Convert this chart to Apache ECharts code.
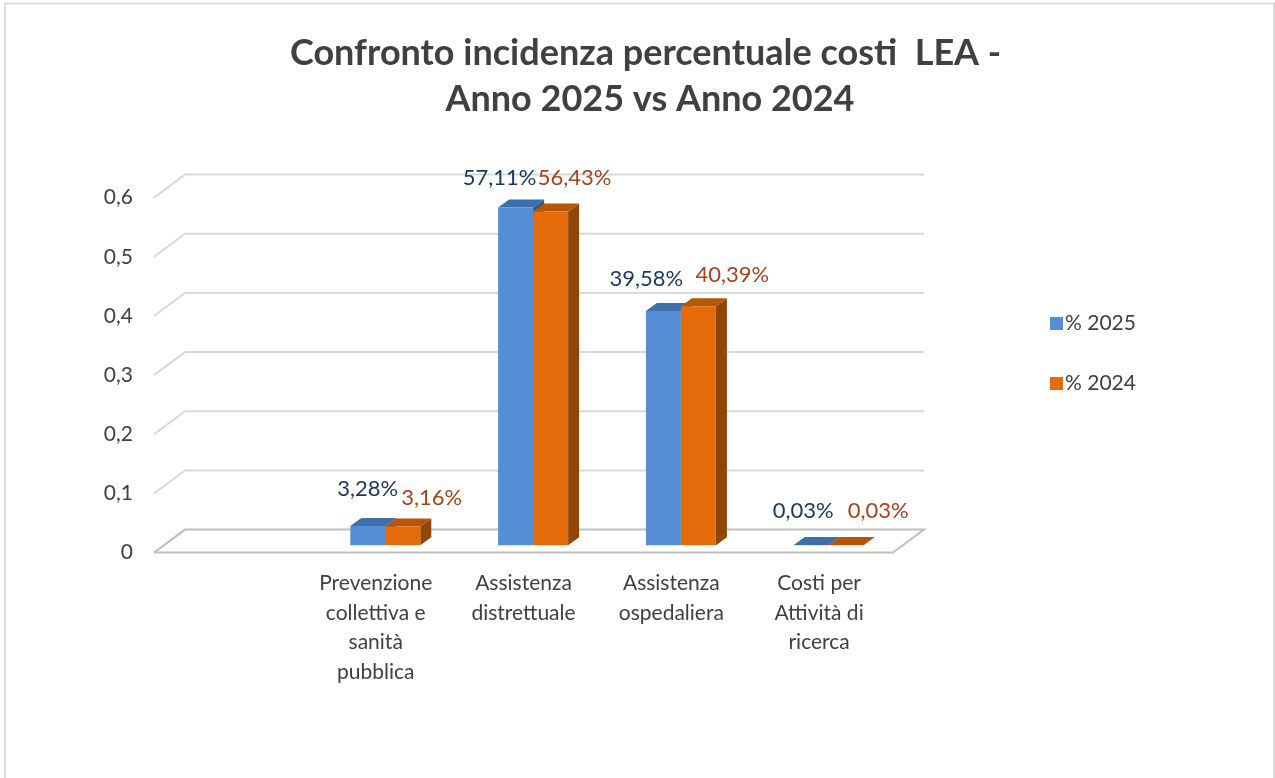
<!DOCTYPE html>
<html>
<head>
<meta charset="utf-8">
<title>Confronto incidenza percentuale costi LEA</title>
<script src="https://cdn.jsdelivr.net/npm/echarts@6/dist/echarts.min.js"></script>
<style>
    html, body { margin: 0; padding: 0; background: #ffffff; }
    #chart { width: 1275px; height: 778px; }
</style>
</head>
<body>
<div id="chart"></div>
<script>
// the first category is empty on purpose, the reference leaves that slot blank
const categories = ['', 'Prevenzione\ncollettiva e\nsanità\npubblica', 'Assistenza\ndistrettuale', 'Assistenza\nospedaliera', 'Costi per\nAttività di\nricerca'];
const values2025 = [null, 0.0328, 0.5711, 0.3958, 0.0003];
const values2024 = [null, 0.0316, 0.5643, 0.4039, 0.0003];
const seriesNames = ['% 2025', '% 2024'];
const yTicks = [0, 0.1, 0.2, 0.3, 0.4, 0.5, 0.6];

const fontName = 'Lato, "Open Sans", sans-serif';
const textGray = '#404040';

// fake 3D: how far the back wall sits from the front edge of the floor
const wallDx = 31;
const wallDy = -23;
// bars stand in the middle of the floor depth
const barDx = 9.6;
const barDy = -7.3;
const barDepthX = 11;
const barDepthY = -8;
const barWidth = 35;

const palette = [
    { front: '#558ed5', top: '#3f6fab', side: '#2f5a8f', label: '#17375e' },
    { front: '#e46c0a', top: '#b65708', side: '#8f4606', label: '#a5431a' }
];

// the labels were moved by hand in the original, so every one has its own shift
const labelShifts = [
    [null, [0, -37], [-16, -29], [-17, -32], [-8, -34]],
    [null, [29, -29], [24, -34], [34, -31], [32, -34]]
];

function toPercent(v) {
    return (v * 100).toFixed(2).replace('.', ',') + '%';
}

function poly(points, color, z2) {
    return { type: 'polygon', shape: { points: points }, style: { fill: color }, z2: z2 };
}

// back wall lines + the slanted bit on the left, one item per tick
function renderWall(params, api) {
    const value = api.value(0);
    const rect = params.coordSys;
    const y = api.coord([0, value])[1];
    const left = rect.x;
    const right = rect.x + rect.width;
    const points = value === 0
        ? [[left, y], [left + wallDx, y + wallDy], [right + wallDx, y + wallDy], [right, y], [left, y]]
        : [[left, y], [left + wallDx, y + wallDy], [right + wallDx, y + wallDy]];
    return {
        type: 'polyline',
        shape: { points: points },
        style: { fill: null, stroke: value === 0 ? '#bfbfbf' : '#d9d9d9', lineWidth: 2 }
    };
}

function makeBarRenderer(seriesIndex) {
    const colors = palette[seriesIndex];
    return function (params, api) {
        const catIndex = api.value(0);
        const value = api.value(1);
        const top = api.coord([catIndex, value]);
        const base = api.coord([catIndex, 0]);
        const x0 = top[0] + barDx - (seriesIndex === 0 ? barWidth : 0);
        const x1 = x0 + barWidth;
        const yBase = base[1] + barDy;
        const yTop = top[1] + barDy;
        const shift = labelShifts[seriesIndex][catIndex];
        return {
            type: 'group',
            children: [
                poly([[x1, yBase], [x1 + barDepthX, yBase + barDepthY], [x1 + barDepthX, yTop + barDepthY], [x1, yTop]], colors.side, 1),
                poly([[x0, yTop], [x0 + barDepthX, yTop + barDepthY], [x1 + barDepthX, yTop + barDepthY], [x1, yTop]], colors.top, 2),
                poly([[x0, yBase], [x1, yBase], [x1, yTop], [x0, yTop]], colors.front, 3),
                {
                    type: 'text',
                    z2: 10,
                    x: (x0 + x1) / 2 + shift[0],
                    y: yTop + shift[1],
                    style: {
                        text: toPercent(value),
                        fill: colors.label,
                        font: '22px ' + fontName,
                        align: 'center',
                        verticalAlign: 'middle'
                    }
                }
            ]
        };
    };
}

function toBarData(values) {
    const data = [];
    values.forEach(function (v, i) {
        if (v !== null) data.push([i, v]);
    });
    return data;
}

const chart = echarts.init(document.getElementById('chart'));

chart.setOption({
    backgroundColor: '#ffffff',
    animation: false,
    textStyle: { fontFamily: fontName },
    title: {
        text: 'Confronto incidenza percentuale costi  LEA - \nAnno 2025 vs Anno 2024',
        left: 645,
        top: 25,
        textAlign: 'center',
        textStyle: {
            fontFamily: fontName,
            fontSize: 36,
            fontWeight: 'bold',
            color: textGray,
            lineHeight: 46
        }
    },
    legend: {
        orient: 'vertical',
        left: 1045,
        top: 308,
        icon: 'rect',
        itemWidth: 13,
        itemHeight: 13,
        itemGap: 39,
        data: seriesNames,
        textStyle: { fontFamily: fontName, fontSize: 21, color: textGray, padding: [0, 0, 0, -3] }
    },
    grid: { left: 154, top: 197.6, width: 739, height: 355 },
    xAxis: {
        type: 'category',
        data: categories,
        axisLine: { show: false },
        axisTick: { show: false },
        axisLabel: {
            interval: 0,
            margin: 16,
            fontFamily: fontName,
            fontSize: 21,
            lineHeight: 29.6,
            color: textGray
        }
    },
    yAxis: {
        type: 'value',
        min: 0,
        max: 0.6,
        interval: 0.1,
        axisLine: { show: false },
        axisTick: { show: false },
        splitLine: { show: false },
        axisLabel: {
            margin: 21,
            fontFamily: fontName,
            fontSize: 21,
            color: textGray,
            formatter: function (v) {
                return String(v).replace('.', ',');
            }
        }
    },
    series: [
        {
            type: 'custom',
            name: 'wall',
            z: 1,
            silent: true,
            coordinateSystem: 'cartesian2d',
            encode: { y: 0 },
            data: yTicks.map(function (t) { return [t]; }),
            renderItem: renderWall
        },
        {
            type: 'custom',
            name: seriesNames[0],
            z: 2,
            coordinateSystem: 'cartesian2d',
            encode: { x: 0, y: 1 },
            itemStyle: { color: palette[0].front },
            data: toBarData(values2025),
            renderItem: makeBarRenderer(0)
        },
        {
            type: 'custom',
            name: seriesNames[1],
            z: 3,
            coordinateSystem: 'cartesian2d',
            encode: { x: 0, y: 1 },
            itemStyle: { color: palette[1].front },
            data: toBarData(values2024),
            renderItem: makeBarRenderer(1)
        }
    ],
    // thin frame of the pasted picture, no bottom edge in the original
    graphic: [{
        type: 'polyline',
        silent: true,
        shape: { points: [[5, 778], [5, 3.5], [1274, 3.5], [1274, 778]] },
        style: { fill: null, stroke: '#dcdcdc', lineWidth: 2 }
    }]
});
</script>
</body>
</html>
